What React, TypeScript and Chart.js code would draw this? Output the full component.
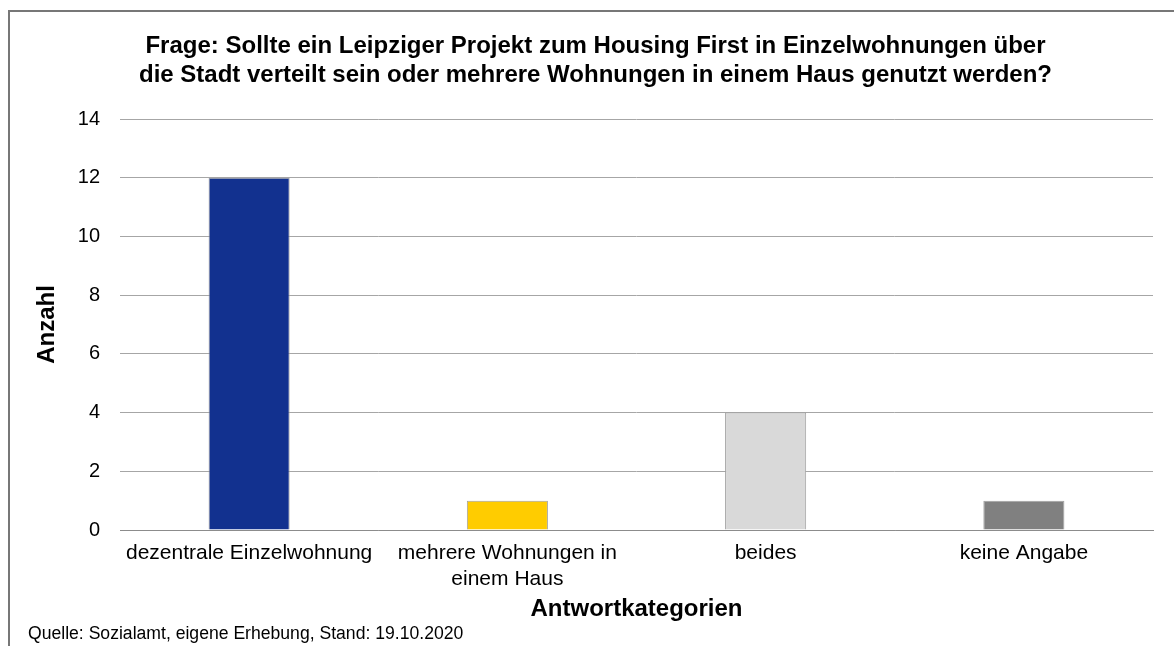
import React, { useEffect, useRef } from "react";
import { Chart, registerables } from "chart.js";

Chart.register(...registerables);

const titleLines = [
  "Frage: Sollte ein Leipziger Projekt zum Housing First in Einzelwohnungen über",
  "die Stadt verteilt sein oder mehrere Wohnungen in einem Haus genutzt werden?",
];
const sourceText = "Quelle: Sozialamt, eigene Erhebung, Stand: 19.10.2020";
const categories: (string | string[])[] = [
  "dezentrale Einzelwohnung",
  ["mehrere Wohnungen in", "einem Haus"],
  "beides",
  "keine Angabe",
];
const counts = [12, 1, 4, 1];
const barColors = ["#12318F", "#FFCC00", "#D9D9D9", "#808080"];
const yTicks = [0, 2, 4, 6, 8, 10, 12, 14];
const yAxisTitle = "Anzahl";
const xAxisTitle = "Antwortkategorien";

const FONT = "'Liberation Sans', Arial, Helvetica, sans-serif";

const W = 1174;
const H = 646;

const textPlugin = {
  id: "customTexts",
  afterDraw(chart: any) {
    const ctx = chart.ctx;
    ctx.save();
    ctx.fillStyle = "#000";
    ctx.textAlign = "center";
    ctx.textBaseline = "alphabetic";
    ctx.font = `bold 24px ${FONT}`;
    ctx.fillText(titleLines[0], 595.5, 53);
    ctx.fillText(titleLines[1], 595.5, 82);
    ctx.textAlign = "left";
    ctx.font = `17.6px ${FONT}`;
    ctx.fillText(sourceText, 28, 639);
    ctx.restore();
  },
};

export default function App() {
  const ref = useRef<HTMLCanvasElement | null>(null);
  useEffect(() => {
    if (!ref.current) return;
    const chart = new Chart(ref.current, {
      type: "bar",
      data: {
        labels: categories,
        datasets: [
          {
            data: counts,
            backgroundColor: barColors,
            borderColor: "#A0A0A0",
            borderWidth: 1,
            categoryPercentage: 1,
            barPercentage: 0.314,
          },
        ],
      },
      options: {
        responsive: false,
        animation: false,
        devicePixelRatio: 1,
        layout: { padding: { top: 119, left: 0, right: 21, bottom: 0 } },
        plugins: {
          legend: { display: false },
          title: { display: false },
          tooltip: { enabled: false },
        },
        scales: {
          x: {
            grid: { display: false, drawTicks: false },
            border: { display: true, color: "#8C8C8C", width: 1 },
            ticks: {
              color: "#000",
              font: { family: FONT, size: 21 },
              padding: 11,
              maxRotation: 0,
              autoSkip: false,
            },
            title: {
              display: true,
              text: xAxisTitle,
              color: "#000",
              font: { family: FONT, size: 24, weight: "bold" },
              padding: { top: 0, bottom: 22 },
            },
            afterFit: (s: any) => {
              s.height = 116;
            },
          },
          y: {
            min: 0,
            max: 14,
            afterBuildTicks: (s: any) => {
              s.ticks = yTicks.map((v) => ({ value: v }));
            },
            grid: { color: "#A6A6A6", lineWidth: 1, drawTicks: false },
            border: { display: false },
            ticks: {
              color: "#000",
              font: { family: FONT, size: 20 },
              padding: 20,
            },
            title: {
              display: true,
              text: yAxisTitle,
              color: "#000",
              font: { family: FONT, size: 24, weight: "bold" },
              padding: { top: 33, bottom: 0 },
            },
            afterFit: (s: any) => {
              s.width = 120;
            },
          },
        },
      },
      plugins: [textPlugin],
    });
    return () => chart.destroy();
  }, []);

  return (
    <div style={{ position: "fixed", left: 0, top: 0, width: W, height: H, background: "#fff", overflow: "hidden" }}>
      <div
        style={{
          position: "absolute",
          left: 8,
          top: 10,
          width: W - 8,
          height: H - 10,
          boxSizing: "border-box",
          borderLeft: "2px solid #777",
          borderTop: "2px solid #777",
        }}
      />
      <canvas ref={ref} width={W} height={H} style={{ position: "absolute", left: 0, top: 0, width: W, height: H }} />
    </div>
  );
}
